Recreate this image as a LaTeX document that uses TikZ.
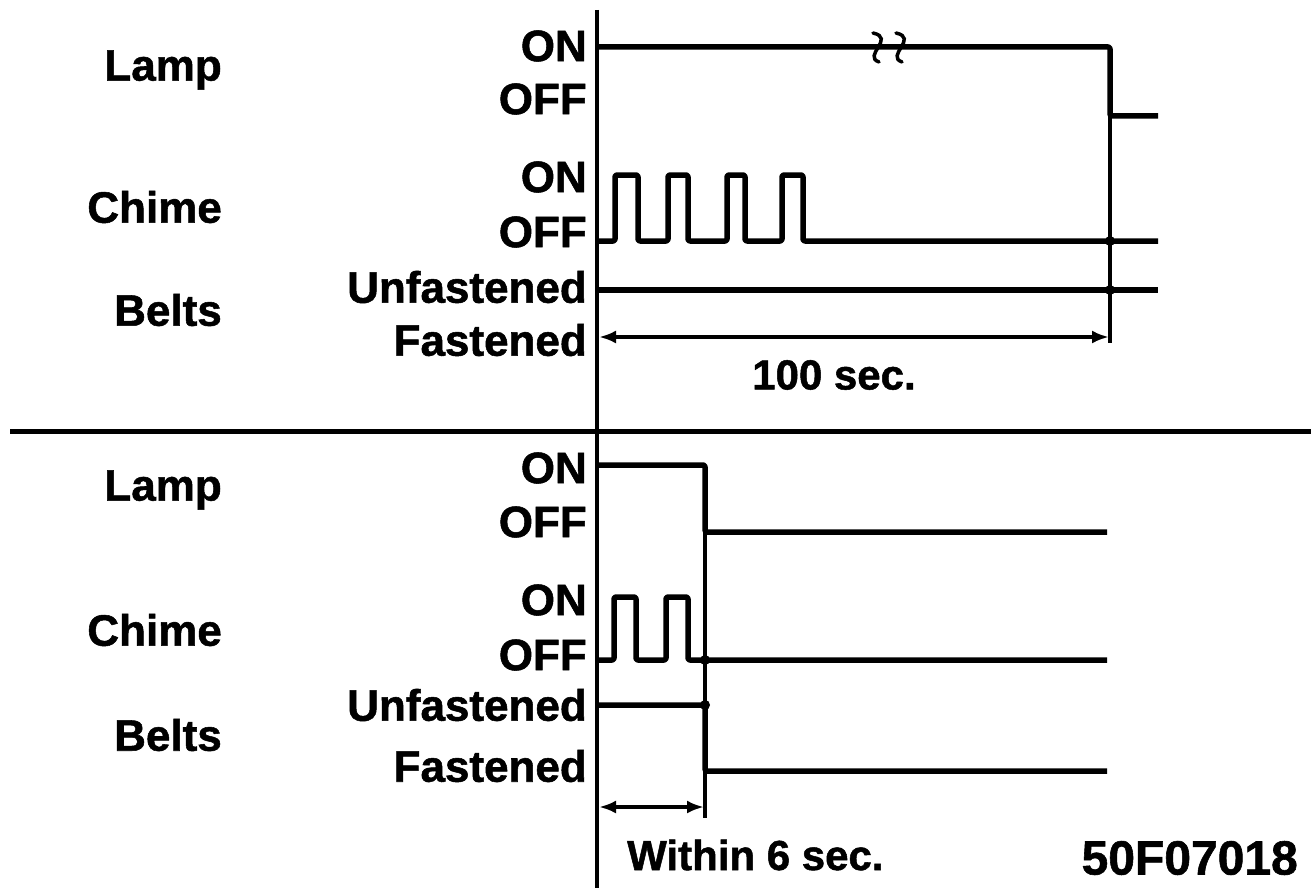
\documentclass[tikz,border=0pt]{standalone}
\usepackage{fontspec}
\setmainfont[BoldFeatures={FakeBold=1.2}]{Liberation Sans}
\usetikzlibrary{arrows.meta}
\tikzset{
  wave/.style={line width=5.5pt, rounded corners=2pt, line join=round},
  vline/.style={line width=4.5pt},
  axisline/.style={line width=3.5pt},
  sepline/.style={line width=5pt},
  dimarrow/.style={line width=3.5pt, {Latex[length=17pt,width=13pt]}-{Latex[length=17pt,width=13pt]}},
  junction/.style={circle, fill=black, inner sep=0pt, minimum size=10pt},
  sig/.style={font=\fontsize{44}{48}\selectfont\bfseries, anchor=east, inner sep=0pt},
  lvl/.style={font=\fontsize{44}{48}\selectfont\bfseries, anchor=east, inner sep=0pt},
  note/.style={font=\fontsize{42}{46}\selectfont\bfseries, inner sep=0pt},
  brk/.style={line width=3.5pt, line cap=round},
}
\begin{document}
\begin{tikzpicture}[x=1pt, y=-1pt]
\useasboundingbox (0,0) rectangle (1311,888);

% axis and separator
\coordinate (axT) at (597,10);
\coordinate (axB) at (597,888);
\draw[axisline] (axT) -- (axB);
\coordinate (sepL) at (10,431);
\coordinate (sepR) at (1311,431);
\draw[sepline] (sepL) -- (sepR);

% ---------- top panel labels ----------
\node[sig] (lampT) at (222,70) {Lamp};
\node[sig] (chimeT) at (222,207) {Chime};
\node[sig] (beltsT) at (222,310) {Belts};
\node[lvl] (onLT) at (587,46) {ON};
\node[lvl] (offLT) at (587,99) {OFF};
\node[lvl] (onCT) at (587,177) {ON};
\node[lvl] (offCT) at (587,232) {OFF};
\node[lvl] (unfT) at (587,287) {Unfastened};
\node[lvl] (fasT) at (587,340) {Fastened};

% top lamp
\coordinate (lT0) at (597,47);
\coordinate (lT1) at (1110,47);
\coordinate (lT2) at (1110,116);
\coordinate (lT3) at (1158,116);
\coordinate (vT) at (1110,343);
\draw[wave] (lT0) -- (lT1) -- (lT2) -- (lT3);
\draw[vline] (lT2) -- (vT);
% break mark
\coordinate (bk1a) at (873,33);
\coordinate (bk1b) at (879,62);
\coordinate (bk2a) at (896,33);
\coordinate (bk2b) at (902,62);
\draw[brk] (bk1a) .. controls (896,38) and (862,56) .. (bk1b);
\draw[brk] (bk2a) .. controls (919,38) and (885,56) .. (bk2b);

% top chime
\coordinate (cT0) at (597,241);
\coordinate (cTe) at (1158,241);
\draw[wave] (cT0) -- (615,241) -- (615,175) -- (638,175) -- (638,241)
  -- (668,241) -- (668,175) -- (688,175) -- (688,241)
  -- (727,241) -- (727,175) -- (745,175) -- (745,241)
  -- (782,241) -- (782,175) -- (803,175) -- (803,241) -- (cTe);

% top belts
\coordinate (bT0) at (597,290);
\coordinate (bTe) at (1158,290);
\draw[wave] (bT0) -- (bTe);
\node[junction] (jT1) at (1110,241) {};
\node[junction] (jT2) at (1110,290) {};

% 100 sec arrow
\coordinate (aT0) at (599,337);
\coordinate (aT1) at (1109,337);
\draw[dimarrow] (aT0) -- (aT1);
\node[note] (hundred) at (834,375) {100 sec.};

% ---------- bottom panel labels ----------
\node[sig] (lampB) at (222,490) {Lamp};
\node[sig] (chimeB) at (222,630) {Chime};
\node[sig] (beltsB) at (222,735) {Belts};
\node[lvl] (onLB) at (587,468) {ON};
\node[lvl] (offLB) at (587,522) {OFF};
\node[lvl] (onCB) at (587,600) {ON};
\node[lvl] (offCB) at (587,655) {OFF};
\node[lvl] (unfB) at (587,705) {Unfastened};
\node[lvl] (fasB) at (587,766) {Fastened};

% bottom lamp
\coordinate (lB0) at (597,465);
\coordinate (lB1) at (705,465);
\coordinate (lB2) at (705,532);
\coordinate (lB3) at (1107,532);
\draw[wave] (lB0) -- (lB1) -- (lB2) -- (lB3);
\coordinate (vB) at (705,818);
\draw[vline] (lB2) -- (vB);

% bottom chime
\coordinate (cB0) at (597,660);
\coordinate (cBe) at (1107,660);
\draw[wave] (cB0) -- (614,660) -- (614,597) -- (636,597) -- (636,660)
  -- (666,660) -- (666,597) -- (688,597) -- (688,660) -- (cBe);

% bottom belts
\coordinate (bB0) at (597,705);
\coordinate (bB1) at (705,705);
\coordinate (bB2) at (705,771);
\coordinate (bB3) at (1107,771);
\draw[wave] (bB0) -- (bB1) -- (bB2) -- (bB3);
\node[junction] (jB1) at (705,660) {};
\node[junction] (jB2) at (705,705) {};

% within 6 sec arrow
\coordinate (aB0) at (599,807);
\coordinate (aB1) at (704,807);
\draw[dimarrow] (aB0) -- (aB1);
\node[note, anchor=west] (within) at (627,855) {Within 6 sec.};

\node[font=\fontsize{48}{52}\selectfont\bfseries, anchor=east, inner sep=0pt] (code) at (1298,858) {50F07018};
\end{tikzpicture}
\end{document}
